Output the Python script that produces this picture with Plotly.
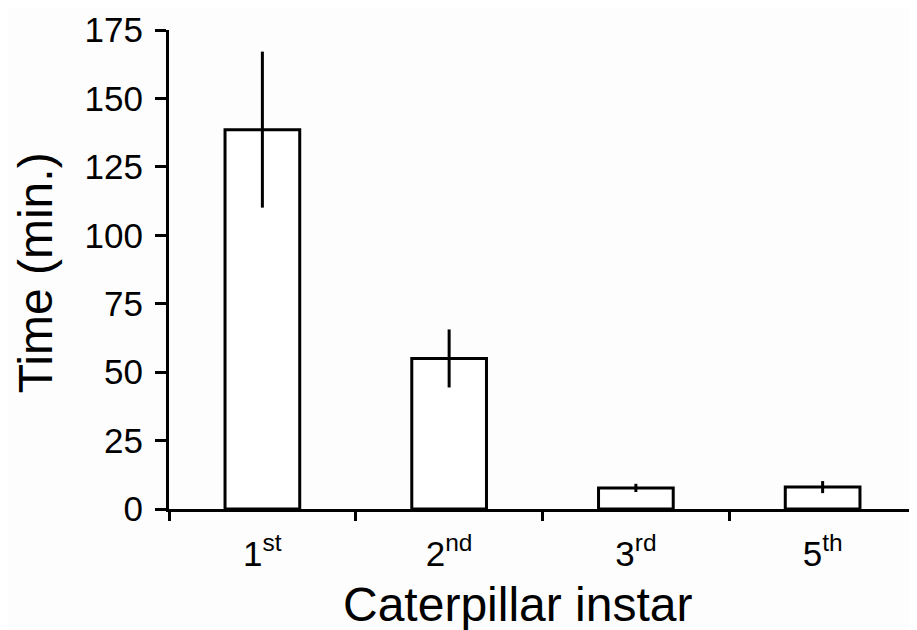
import plotly.graph_objects as go

categories = ["1<sup>st</sup>", "2<sup>nd</sup>", "3<sup>rd</sup>", "5<sup>th</sup>"]
mean_time = [138.6, 55.0, 7.7, 8.0]
err_time = [28.5, 10.6, 1.5, 2.2]
y_ticks = [0, 25, 50, 75, 100, 125, 150, 175]

FONT = "Liberation Sans, Arial, sans-serif"
OFF = 8  # default page body margin
W, H = 917 - OFF, 630 - OFF
L, R, T, B = 169 - OFF, 1, 30 - OFF, 630 - 509.5

PW, PH = W - L - R, H - T - B


def px_x(x):
    return (x - OFF - L) / PW


def px_y(y):
    return ((H - B) - (y - OFF)) / PH


fig = go.Figure(go.Bar(
    x=categories, y=mean_time, width=0.4,
    marker=dict(color="white", line=dict(color="black", width=3)),
    error_y=dict(type="data", array=err_time, visible=True,
                 color="black", thickness=3, width=0),
))

fig.update_layout(
    width=W, height=H,
    margin=dict(l=L, r=R, t=T, b=B, pad=0),
    paper_bgcolor="#fdfdfd", plot_bgcolor="#fdfdfd",
    showlegend=False,
    font=dict(family=FONT, color="black", size=34),
    xaxis=dict(
        type="category", range=[-0.5, 3.5], tickson="boundaries",
        ticks="outside", ticklen=9, tickwidth=3, tickcolor="black",
        ticklabelstandoff=12,
        showline=True, linecolor="black", linewidth=3,
        showgrid=False, zeroline=False,
        tickfont=dict(family=FONT, size=35, color="black"),
    ),
    yaxis=dict(
        range=[0, 175], tickmode="array", tickvals=y_ticks,
        ticks="outside", ticklen=11, tickwidth=3, tickcolor="black",
        ticklabelstandoff=5,
        showline=True, linecolor="black", linewidth=3,
        showgrid=False, zeroline=False,
        tickfont=dict(family=FONT, size=35, color="black"),
    ),
    annotations=[
        dict(text="Caterpillar instar", xref="paper", yref="paper",
             x=px_x(517.5), y=px_y(605),
             xanchor="center", yanchor="middle", showarrow=False,
             font=dict(family=FONT, size=48, color="black")),
        dict(text="Time (min.)", xref="paper", yref="paper",
             x=px_x(35), y=px_y(273.5),
             xanchor="center", yanchor="middle", textangle=-90, showarrow=False,
             font=dict(family=FONT, size=48, color="black")),
    ],
)

fig.write_html("out.html")
